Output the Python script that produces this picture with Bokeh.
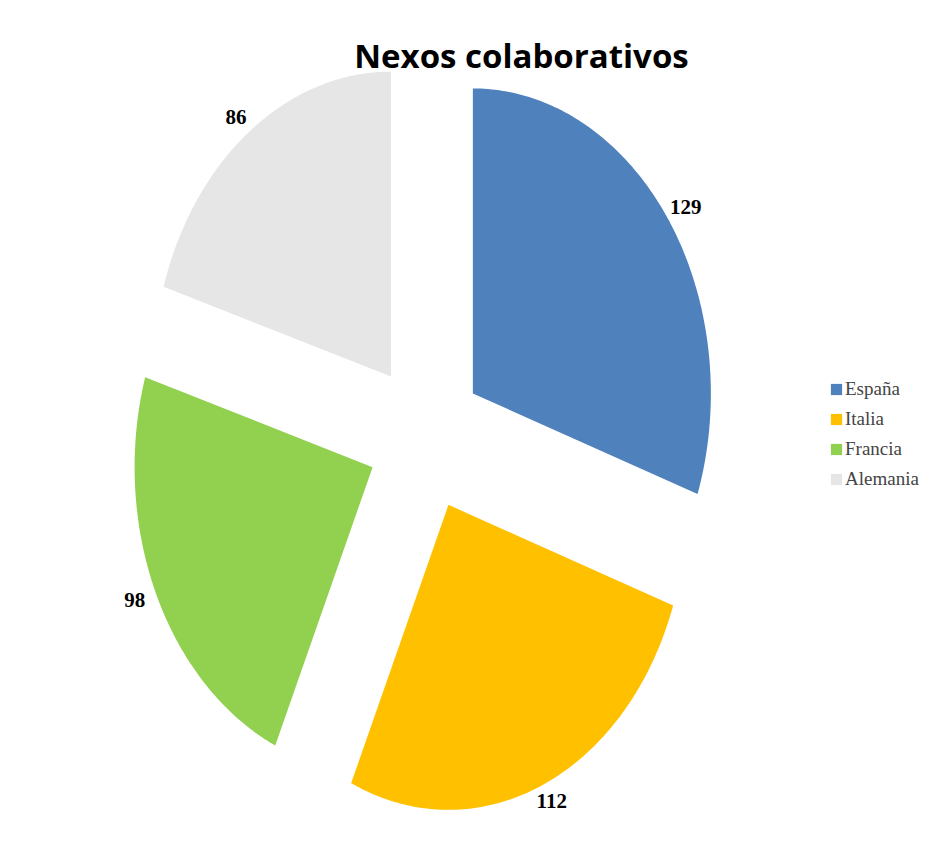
import math
from bokeh.plotting import figure
from bokeh.models import ColumnDataSource, Label, Legend, LegendItem, Range1d
from bokeh.embed import file_html
from bokeh.resources import INLINE

# ---- data ----
categories = ["España", "Italia", "Francia", "Alemania"]
values = [129, 112, 98, 86]
colors = ["#4f81bd", "#ffc000", "#92d050", "#e6e6e6"]
title_text = "Nexos colaborativos"

# ---- layout constants (pixels) ----
W, H = 929, 848
RX, RY = 238.0, 305.0          # pixel size of one data unit (ellipse radii)
CX_PX, CY_PX = 425.0, 436.0    # pixel coordinates of pie centre
EXPLODE = 0.244                # explosion distance (data units)
LABEL_R = 1.03
LBL_HW, LBL_HH = 16, 8

x_start = -CX_PX / RX
x_end = x_start + W / RX
y_top = CY_PX / RY
y_bottom = y_top - H / RY


def px_x(px):
    return x_start + px / RX


def px_y(py):
    return y_top - py / RY


p = figure(width=W, height=H, output_backend="svg", toolbar_location=None,
           x_range=Range1d(x_start, x_end), y_range=Range1d(y_bottom, y_top),
           min_border=0)
p.axis.visible = False
p.grid.visible = False
p.outline_line_color = None
p.background_fill_color = "white"
p.border_fill_color = "white"

total = float(sum(values))
xs, ys, lx, ly, xo, yo = [], [], [], [], [], []
start = 0.0
for v in values:
    span = v / total * 2 * math.pi
    end = start + span
    mid = start + span / 2
    ox, oy = EXPLODE * math.sin(mid), EXPLODE * math.cos(mid)
    n = 120
    px_ = [ox]
    py_ = [oy]
    for i in range(n + 1):
        a = start + span * i / n
        px_.append(ox + math.sin(a))
        py_.append(oy + math.cos(a))
    xs.append(px_)
    ys.append(py_)
    lx.append(ox + LABEL_R * math.sin(mid))
    ly.append(oy + LABEL_R * math.cos(mid))
    xo.append(LBL_HW * math.sin(mid))
    yo.append(-LBL_HH * math.cos(mid))
    start = end

src = ColumnDataSource(dict(xs=xs, ys=ys, name=categories, color=colors,
                            lx=lx, ly=ly, xo=xo, yo=yo,
                            txt=[str(v) for v in values]))
r = p.patches("xs", "ys", source=src, fill_color="color", line_color=None)

p.text("lx", "ly", text="txt", source=src, x_offset="xo", y_offset="yo",
       text_align="center", text_baseline="middle", text_font_size="21px",
       text_font={"value": "Liberation Serif"}, text_font_style="bold",
       text_color="black")

p.add_layout(Label(x=px_x(521), y=px_y(55), text=title_text,
                   text_align="center", text_baseline="middle",
                   text_font="Open Sans", text_font_style="bold",
                   text_font_size="33px", text_color="black"))

items = [LegendItem(label=c, renderers=[r], index=i) for i, c in enumerate(categories)]
legend = Legend(items=items, location=(829, 358), glyph_width=14, glyph_height=14,
                label_text_font="Liberation Serif", label_text_font_size="19px",
                label_standoff=2, spacing=8, padding=0, margin=0,
                border_line_color=None, background_fill_alpha=0,
                label_height=20)
p.add_layout(legend)

open("out.html", "w").write(file_html(p, INLINE))
